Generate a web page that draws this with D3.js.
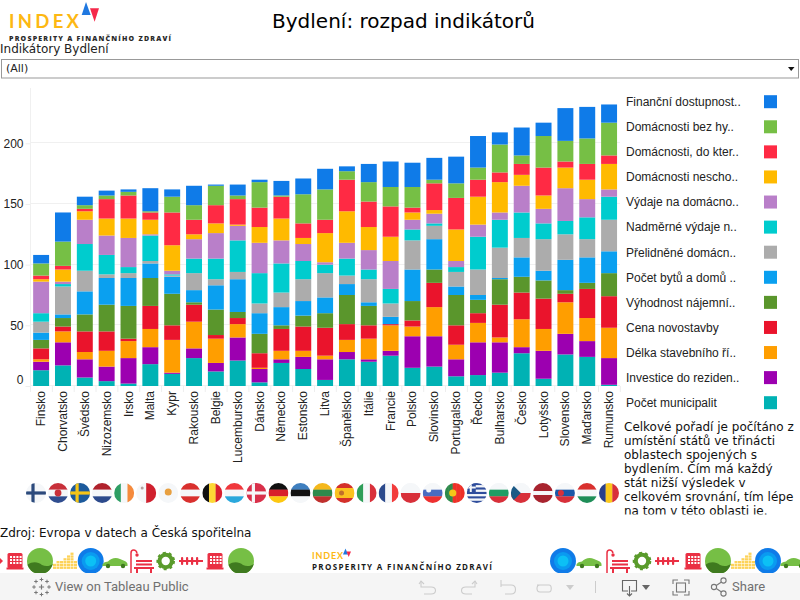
<!DOCTYPE html>
<html lang="cs">
<head>
<meta charset="utf-8">
<title>Bydlení: rozpad indikátorů</title>
<script src="https://cdn.jsdelivr.net/npm/d3@7/dist/d3.min.js"></script>
<style>
html,body{margin:0;padding:0;background:#fff;overflow:hidden}
svg{display:block}
.dj{font-family:"DejaVu Sans",sans-serif}
.ar{font-family:"Liberation Sans",Arial,sans-serif}
</style>
</head>
<body>
<div id="chart"></div>
<script>
// ---- data: rank points per country and indicator ----
const countries = ["Finsko","Chorvatsko","Švédsko","Nizozemsko","Irsko","Malta","Kypr","Rakousko","Belgie","Lucembursko","Dánsko","Německo","Estonsko","Litva","Španělsko","Itálie","Francie","Polsko","Slovinsko","Portugalsko","Řecko","Bulharsko","Česko","Lotyšsko","Slovensko","Maďarsko","Rumunsko"];
const pocetMunicipalit = [13,17,7,4,2,18,10,23,12,21,3,19,14,5,22,20,25,15,16,8,9,11,27,6,26,24,1];
const investice        = [7,19,15,12,21,14,1,8,7,19,11,3,10,17,6,2,4,26,25,14,27,25,5,23,17,13,22];
const delkaRizeni      = [2,9,6,13,14,15,27,22,20,11,1,7,5,3,10,17,21,8,24,12,16,4,23,18,26,19,25];
const cenaNovostavby   = [9,4,17,16,2,19,12,14,3,5,12,18,20,23,13,11,1,5,20,16,8,27,22,25,7,24,26];
const vyhodnostNajmu   = [7,7,14,22,27,23,26,2,21,5,16,3,9,12,24,16,0,16,11,25,11,21,13,15,3,5,19];
const pocetBytu        = [6,3,19,22,23,12,14,10,20,27,17,15,12,13,9,3,6,26,25,7,4,1,16,8,25,21,18];
const prelidnene       = [9,23,17,3,4,2,1,14,5,6,8,12,18,20,7,19,11,24,11,12,21,25,16,26,21,15,26];
const nadmerneVydaje   = [7,2,22,16,5,21,1,12,17,26,25,24,15,7,14,8,12,9,2,4,27,23,21,13,11,18,19];
const vydajeDomacnosti = [26,2,20,16,24,1,3,16,21,12,25,19,14,2,13,16,23,8,8,5,10,6,22,12,27,15,6];
const neschopne        = [2,10,7,14,16,12,21,4,8,1,13,18,5,24,26,19,20,6,3,26,23,25,9,11,17,16,21];
const doKterych        = [3,3,2,16,19,6,27,12,15,21,16,18,12,11,26,21,25,4,22,26,14,8,9,23,5,13,7];
const bezHypoteky      = [10,20,3,3,3,1,13,12,16,3,21,1,24,25,7,16,16,17,3,12,10,23,7,26,17,21,27];
const financniDostup   = [7,24,7,4,2,19,6,16,1,9,2,12,13,17,4,15,21,20,18,22,26,10,23,11,27,26,15];

const seriesLabels = ["Počet municipalit","Investice do reziden..","Délka stavebního ří..","Cena novostavby","Výhodnost nájemní..","Počet bytů a domů ..","Přelidněné domácn..","Nadměrné výdaje n..","Výdaje na domácno..","Domácnosti nescho..","Domácnosti, do kter..","Domácnosti bez hy..","Finanční dostupnost.."];
const seriesValues = [pocetMunicipalit,investice,delkaRizeni,cenaNovostavby,vyhodnostNajmu,pocetBytu,prelidnene,nadmerneVydaje,vydajeDomacnosti,neschopne,doKterych,bezHypoteky,financniDostup];
const seriesColors = ["#00b2b4","#9c00b0","#ff9e00","#ea142c","#5a962c","#0aa0f0","#acacac","#00ccce","#b97fc9","#ffba00","#ff2a44","#76bf45","#0f7be8"];
const yTicks = [0,50,100,150,200];

const noteLines = ["Celkové pořadí je počítáno z","umístění států ve třinácti","oblastech spojených s","bydlením. Čím má každý","stát nižší výsledek v","celkovém srovnání, tím lépe","na tom v této oblasti je."];

const W=800,H=600;
const svg=d3.select("#chart").append("svg").attr("width",W).attr("height",H).attr("viewBox",[0,0,W,H]);
const defs=svg.append("defs");

// ---- logo ----
svg.append("text").attr("x",9).attr("y",28.2).attr("font-family","Lato,'Open Sans',sans-serif").attr("font-weight",700)
  .attr("font-size",18.5).attr("fill","#fdb813").attr("textLength",70).attr("lengthAdjust","spacing").text("INDEX");
svg.append("path").attr("d","M86,2L90.7,15H81.7Z").attr("fill","#1f78e0");
svg.append("path").attr("d","M90,8.3H99L94.6,21.8Z").attr("fill","#f5284a");
svg.append("text").attr("x",9).attr("y",41).attr("font-family","'Open Sans',sans-serif").attr("font-weight",800)
  .attr("font-size",7).attr("fill","#2a2a2a").attr("textLength",162).attr("lengthAdjust","spacing").text("PROSPERITY A FINANČNÍHO ZDRAVÍ");

// ---- title + filter ----
svg.append("text").attr("class","dj").attr("x",403.5).attr("y",28).attr("text-anchor","middle").attr("font-size",20).attr("fill","#000").text("Bydlení: rozpad indikátorů");
svg.append("text").attr("class","dj").attr("x",0).attr("y",53).attr("font-size",12).attr("fill","#222").text("Indikátory Bydlení");
svg.append("rect").attr("x",1.5).attr("y",59.5).attr("width",797).attr("height",18.5).attr("fill","#fff").attr("stroke","#999");
svg.append("text").attr("class","dj").attr("x",6).attr("y",72).attr("font-size",11).attr("fill","#222").text("(All)");
svg.append("path").attr("d","M788,67H794.5L791.2,71Z").attr("fill","#111");

// ---- scales ----
const x=d3.scaleBand().domain(countries).range([30.2,620]).paddingInner(0.27).paddingOuter(0.135);
const y=d3.scaleLinear().domain([0,200]).range([386,143.3]);

// ---- axes ----
const gridG=svg.append("g").attr("class","ar");
const yAxis=d3.axisLeft(y).tickValues(yTicks).tickSize(5).tickPadding(2);
const ya=gridG.append("g").attr("transform","translate(30.5,0)").call(yAxis);
ya.select(".domain").remove();
ya.selectAll("line").attr("stroke","#eee");
ya.selectAll("text").attr("font-size",12).attr("font-family","'Liberation Sans',Arial,sans-serif").attr("fill","#222")
  .attr("dy",d=>d===0?"-0.18em":"0.32em");
gridG.append("g").selectAll("line").data(yTicks).join("line")
  .attr("x1",30.5).attr("x2",620).attr("y1",d=>Math.round(y(d))+.5-1).attr("y2",d=>Math.round(y(d))+.5-1)
  .attr("stroke","#f0f0f0");
gridG.append("line").attr("x1",30.5).attr("x2",30.5).attr("y1",88).attr("y2",386).attr("stroke","#f0f0f0");

// ---- stacked bars ----
const tableRows=countries.map((c,i)=>{const r={country:c};seriesLabels.forEach((s,k)=>r[s]=seriesValues[k][i]);return r;});
const stacked=d3.stack().keys(seriesLabels)(tableRows);
svg.append("g").selectAll("g").data(stacked).join("g").attr("fill",(d,i)=>seriesColors[i])
  .selectAll("rect").data(d=>d).join("rect")
  .attr("x",d=>x(d.data.country)).attr("width",x.bandwidth())
  .attr("y",d=>y(d[1])).attr("height",d=>Math.max(0,y(d[0])-y(d[1])));

// ---- x axis ----
const xA=svg.append("g");
xA.selectAll("line.t").data(d3.range(countries.length+1)).join("line").attr("class","t")
  .attr("x1",d=>30.5+d*x.step()).attr("x2",d=>30.5+d*x.step()).attr("y1",386).attr("y2",392).attr("stroke","#eee");
xA.selectAll("text").data(countries).join("text").attr("class","ar")
  .attr("transform",d=>`translate(${x(d)+x.bandwidth()/2+4},391) rotate(-90)`)
  .attr("text-anchor","end").attr("font-size",12).attr("fill","#222").text(d=>d);

// ---- legend ----
const legendOrder=seriesLabels.map((s,i)=>i).reverse();
const legY=d3.scalePoint().domain(legendOrder).range([101.7,402.7]);
const leg=svg.append("g").selectAll("g").data(legendOrder).join("g");
leg.append("text").attr("class","ar").attr("x",626).attr("y",d=>legY(d)+4.3).attr("font-size",12).attr("fill","#222").text(d=>seriesLabels[d]);
leg.append("rect").attr("x",764).attr("y",d=>legY(d)-6.5).attr("width",13).attr("height",13).attr("fill",d=>seriesColors[d]);

// ---- note ----
defs.append("clipPath").attr("id","noteClip").append("rect").attr("x",600).attr("y",415).attr("width",200).attr("height",99.5);
svg.append("g").attr("clip-path","url(#noteClip)").selectAll("text").data(noteLines).join("text").attr("class","dj")
  .attr("x",624).attr("y",(d,i)=>430.5+i*14).attr("font-size",12).attr("fill","#111").text(d=>d);

// ---- flags ----
const fx=d3.scalePoint().domain(countries).range([36,609]);
const WH="#f5f7f9";
const flags={
 "Finsko":{bg:WH,cross:["#2c4a7c",-3]},
 "Chorvatsko":{h:["#c8303a",WH,"#2f4d8f"],mark:["#c8303a",0,0,3.4]},
 "Švédsko":{bg:"#1c5a9c",cross:["#f5c518",-3]},
 "Nizozemsko":{h:["#b0222c",WH,"#2c4a8c"]},
 "Irsko":{v:["#2e9e64",WH,"#f58a3c"]},
 "Malta":{v:[WH,"#d0202e"],mark:["#b5a0a0",-4,-5,1.5]},
 "Kypr":{bg:WH,mark:["#e8a040",0,-1,3.5]},
 "Rakousko":{h:["#d9302e",WH,"#d9302e"]},
 "Belgie":{v:["#111","#fdd835","#d9202e"]},
 "Lucembursko":{h:["#f0383c",WH,"#2aa8dc"]},
 "Dánsko":{bg:"#d9304a",cross:[WH,-3]},
 "Německo":{h:["#111","#d8202a","#fdc810"]},
 "Estonsko":{h:["#3f7fbf","#111",WH]},
 "Litva":{h:["#f5b81c","#2e8a4c","#c0302e"]},
 "Španělsko":{h:["#d4302a","#fbc21f","#fbc21f","#d4302a"],mark:["#c0702a",-3,0,2.5]},
 "Itálie":{v:["#2e9e58",WH,"#d9303a"]},
 "Francie":{v:["#2c4a8c",WH,"#f23c3c"]},
 "Polsko":{h:[WH,"#d8303a"]},
 "Slovinsko":{h:[WH,"#4a6cc0","#ee3030"],mark:[WH,-4,-3,2.5]},
 "Portugalsko":{v:["#2e8a4c","#2e8a4c","#ee3028","#ee3028","#ee3028"],mark:["#f5c518",-2,0,3.6]},
 "Řecko":{h:["#2f4d9c",WH,"#2f4d9c",WH,"#2f4d9c",WH,"#2f4d9c",WH,"#2f4d9c"],canton:"#2f4d9c"},
 "Bulharsko":{h:[WH,"#1f9e64","#d8303a"]},
 "Česko":{h:[WH,"#d8303a"],tri:"#1c5a86"},
 "Lotyšsko":{h:["#a8242f","#a8242f",WH,"#a8242f","#a8242f"]},
 "Slovensko":{h:[WH,"#1a58a8","#d8303a"],mark:["#d8303a",-4,0,3]},
 "Maďarsko":{h:["#d9302e",WH,"#1f8e58"]},
 "Rumunsko":{v:["#2a3f8c","#fbc81c","#d8303a"]}
};
const R=10;
countries.forEach((c,i)=>{
  const f=flags[c];
  const id="fc"+i;
  defs.append("clipPath").attr("id",id).append("circle").attr("r",R);
  const g=svg.append("g").attr("transform",`translate(${fx(c)},493)`).append("g").attr("clip-path",`url(#${id})`);
  g.append("rect").attr("x",-R).attr("y",-R).attr("width",2*R).attr("height",2*R).attr("fill",f.bg||WH);
  if(f.h){const b=d3.scaleBand().domain(d3.range(f.h.length)).range([-R,R]);
    f.h.forEach((col,k)=>g.append("rect").attr("x",-R).attr("y",b(k)).attr("width",2*R).attr("height",b.bandwidth()+.2).attr("fill",col));}
  if(f.v){const b=d3.scaleBand().domain(d3.range(f.v.length)).range([-R,R]);
    f.v.forEach((col,k)=>g.append("rect").attr("y",-R).attr("x",b(k)).attr("height",2*R).attr("width",b.bandwidth()+.2).attr("fill",col));}
  if(f.cross){g.append("rect").attr("x",-R).attr("y",-1.6).attr("width",2*R).attr("height",3.2).attr("fill",f.cross[0]);
    g.append("rect").attr("x",f.cross[1]-1.6).attr("y",-R).attr("width",3.2).attr("height",2*R).attr("fill",f.cross[0]);}
  if(f.canton){g.append("rect").attr("x",-R).attr("y",-R).attr("width",9).attr("height",9).attr("fill",f.canton);
    g.append("rect").attr("x",-7).attr("y",-R).attr("width",2).attr("height",9).attr("fill",WH);
    g.append("rect").attr("x",-R).attr("y",-6.5).attr("width",9).attr("height",2).attr("fill",WH);}
  if(f.tri){g.append("path").attr("d","M-10,-10L0,0L-10,10Z").attr("fill",f.tri);}
  if(f.mark){g.append("circle").attr("cx",f.mark[1]).attr("cy",f.mark[2]).attr("r",f.mark[3]).attr("fill",f.mark[0]);}
});

// ---- source ----
svg.append("text").attr("class","dj").attr("x",0).attr("y",537).attr("font-size",12).attr("fill","#111").text("Zdroj: Evropa v datech a Česká spořitelna");

// ---- decorative icon strip ----
const RED="#ea3044",GRN="#76bf45",DGRN="#3f7a1f",YEL="#fdd35a";
let hillId=0;
const icons={
 booth(g){g.append("rect").attr("x",-7.5).attr("y",-8).attr("width",15).attr("height",15).attr("rx",1.5).attr("fill",RED);
   for(let a=-5;a<5;a+=3.2)for(let b=-5;b<4;b+=3)g.append("rect").attr("x",a).attr("y",b).attr("width",2).attr("height",2).attr("fill","#fff");
   g.append("rect").attr("x",-8.5).attr("y",6.5).attr("width",17).attr("height",2).attr("fill",RED);},
 hill(g){g.append("circle").attr("r",13).attr("fill",GRN);
   const id="hc"+(hillId++);
   defs.append("clipPath").attr("id",id).append("circle").attr("r",13);
   g.append("path").attr("clip-path",`url(#${id})`).attr("d","M-13,4C-7,0,-2,1,2,4C6,6,10,5,13,3V13H-13Z").attr("fill",DGRN);},
 coins(g){[[-10.5,2],[-7,3],[-3.5,3],[0,4],[3.5,5],[7,6],[10.5,3]].forEach(([a,n])=>{for(let k=0;k<n;k++)g.append("rect").attr("x",a-1.5).attr("y",8-k*2.8-2.4).attr("width",3).attr("height",2.3).attr("fill",YEL);});},
 blue(g){g.append("circle").attr("r",13).attr("fill","#0f7be8");g.append("circle").attr("r",9).attr("fill","#0a9bf0");g.append("circle").attr("r",5.5).attr("fill","#0cc0f5");},
 car(g){g.append("path").attr("d","M-12.5,5C-13,2,-10,1,-7,0.5C-4,-3,1,-4,5,-2C8,-.5,12,0,12.5,3V5Z").attr("fill",GRN);
   g.append("circle").attr("cx",-7).attr("cy",5).attr("r",2.2).attr("fill",DGRN);g.append("circle").attr("cx",8).attr("cy",5).attr("r",2.2).attr("fill",DGRN);},
 bench(g){g.append("path").attr("d","M-9,12V-8C-9,-12,-4,-12,-3,-8").attr("fill","none").attr("stroke",RED).attr("stroke-width",1.5);
   g.append("circle").attr("cx",-3).attr("cy",-6).attr("r",1.7).attr("fill",RED);
   g.append("rect").attr("x",-4).attr("y",-1).attr("width",16).attr("height",2).attr("fill",RED);
   g.append("rect").attr("x",-4).attr("y",2.5).attr("width",16).attr("height",2).attr("fill",RED);
   g.append("rect").attr("x",-6).attr("y",6).attr("width",20).attr("height",2).attr("fill",RED);
   g.append("rect").attr("x",-4).attr("y",8).attr("width",2).attr("height",5).attr("fill",RED);
   g.append("rect").attr("x",10).attr("y",8).attr("width",2).attr("height",5).attr("fill",RED);},
 gear(g){g.append("circle").attr("r",6.2).attr("fill","none").attr("stroke","#5a9b2c").attr("stroke-width",4);
   g.append("circle").attr("r",8.3).attr("fill","none").attr("stroke","#5a9b2c").attr("stroke-width",2).attr("stroke-dasharray","3 3");},
 fence(g){g.append("rect").attr("x",-12).attr("y",-1).attr("width",24).attr("height",2).attr("fill",RED);
   [-9,-4,1,6].forEach(a=>g.append("rect").attr("x",a-1).attr("y",-4).attr("width",2.2).attr("height",8).attr("rx",1).attr("fill",RED));}
};
const stripLeft=[["booth",15],["hill",40],["coins",65],["blue",90.7],["car",115],["bench",140],["gear",165.7],["fence",191],["booth",215],["hill",241]];
const stripRight=[["blue",563],["car",589],["bench",616],["gear",642],["fence",667],["booth",693],["hill",718],["coins",743],["blue",768],["car",793]];
stripLeft.concat(stripRight).forEach(([k,cx])=>{icons[k](svg.append("g").attr("transform",`translate(${cx},561)`));});
svg.append("path").attr("d","M0,558L3,561L0,564Z").attr("fill",RED);

// bottom logo
svg.append("text").attr("x",312).attr("y",559).attr("font-family","Lato,'Open Sans',sans-serif").attr("font-weight",700).attr("font-size",9).attr("fill","#fdb813").attr("textLength",31).attr("lengthAdjust","spacing").text("INDEX");
svg.append("path").attr("d","M345.5,548.5L348,554.5H343Z").attr("fill","#1f78e0");
svg.append("path").attr("d","M346.5,551.5H351L348.7,557Z").attr("fill","#f5284a");
svg.append("text").attr("x",312).attr("y",569.5).attr("font-family","'Open Sans',sans-serif").attr("font-weight",700).attr("font-size",8).attr("fill","#1a1a1a").attr("textLength",180).attr("lengthAdjust","spacing").text("PROSPERITY A FINANČNÍHO ZDRAVÍ");

// ---- toolbar ----
const tb=svg.append("g");
tb.append("rect").attr("x",0).attr("y",573).attr("width",W).attr("height",27).attr("fill","#f5f5f5");
const plus=(cx,cy,s,w)=>tb.append("path").attr("d",`M${cx-s},${cy}H${cx+s}M${cx},${cy-s}V${cy+s}`).attr("stroke","#777").attr("stroke-width",w).attr("fill","none");
plus(41.5,587,2.6,1.2);
[[41.5,579.5],[41.5,594.5],[34,587],[49,587],[36,581.5],[47,581.5],[36,592.5],[47,592.5]].forEach(p=>plus(p[0],p[1],1.8,1));
tb.append("text").attr("x",55).attr("y",591).attr("font-family","Roboto,'Open Sans',sans-serif").attr("font-size",13).attr("fill","#707070").text("View on Tableau Public");
const ic=(d,col)=>tb.append("path").attr("d",d).attr("fill","none").attr("stroke",col).attr("stroke-width",1.1);
ic("M421,581V587H431C437,587,437,594,431,594H424","#ccc");ic("M419,584L421,581L424,584","#ccc");
ic("M475,581V587H466C460,587,460,594,466,594H472","#ccc");ic("M472,584L475,581L477,584","#ccc");
ic("M501,580V587M501,585H511C517,585,517,594,511,594H505","#ccc");
ic("M537,585H549C552,585,552,592,549,592H540C536,592,536,585,540,585","#ccc");
tb.append("path").attr("d","M566,585H574L570,590Z").attr("fill","#ccc");
tb.append("line").attr("x1",595.5).attr("x2",595.5).attr("y1",581).attr("y2",593).attr("stroke","#ccc");
ic("M628,591H622.5V580.5H636.5V591H631","#666");ic("M629.5,586V596M627,593.5L629.5,596L632,593.5","#666");
tb.append("path").attr("d","M642,585H650L646,590Z").attr("fill","#666");
ic("M673,584V580H678M684,580H689V584M689,591V595H684M678,595H673V591","#777");
tb.append("rect").attr("x",676.5).attr("y",583).attr("width",9).attr("height",9).attr("fill","none").attr("stroke","#777").attr("stroke-width",1.1);
ic("M723,581L714,587L723,593","#777");
[[723.5,580.5],[714,587],[723.5,593.5]].forEach(p=>tb.append("circle").attr("cx",p[0]).attr("cy",p[1]).attr("r",2.6).attr("fill","#f5f5f5").attr("stroke","#777").attr("stroke-width",1.1));
tb.append("text").attr("x",732).attr("y",591).attr("font-family","Roboto,'Open Sans',sans-serif").attr("font-size",13).attr("fill","#707070").text("Share");
</script>
</body>
</html>
